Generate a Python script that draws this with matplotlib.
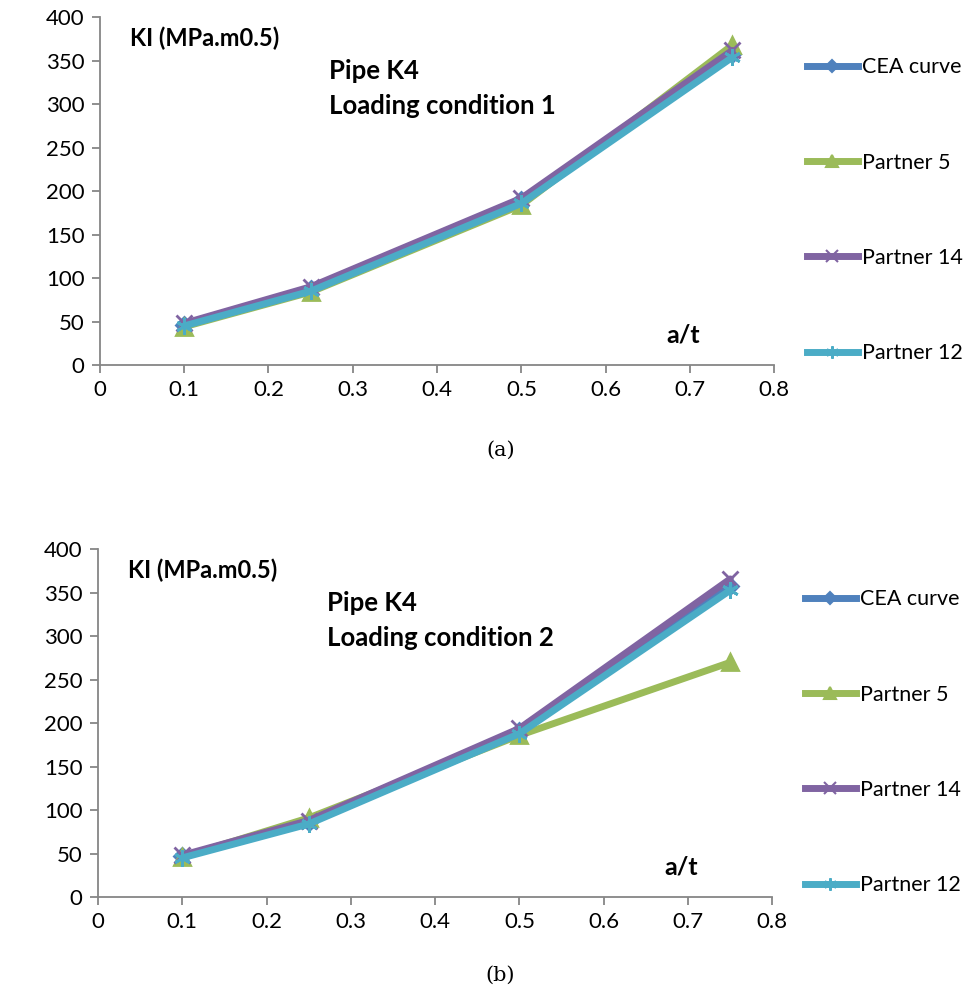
import matplotlib.pyplot as plt
from matplotlib.lines import Line2D

# a/t positions
crack_depth = [0.1, 0.25, 0.5, 0.75]

series_names = ["CEA curve", "Partner 5", "Partner 14", "Partner 12"]

# loading condition 1
cea_1 = [46, 88, 190, 358]
p5_1 = [44, 84, 184, 368]
p14_1 = [48, 90, 192, 362]
p12_1 = [45, 85, 186, 354]

# loading condition 2
cea_2 = [47, 86, 191, 358]
p5_2 = [46, 91, 186, 270]
p14_2 = [48, 88, 194, 366]
p12_2 = [45, 84, 188, 353]

x_ticks = [0, 0.1, 0.2, 0.3, 0.4, 0.5, 0.6, 0.7, 0.8]
y_ticks = [0, 50, 100, 150, 200, 250, 300, 350, 400]

colors = ["#4F81BD", "#9BBB59", "#8064A2", "#4BACC6"]
markers = ["D", "^", "x", (6, 2, 0)]
msizes = [8, 11, 11, 12]

plt.rcParams["font.family"] = ["Lato", "DejaVu Sans"]

fig = plt.figure(figsize=(9.79, 9.96), dpi=100)


def draw_panel(rect, data, label, caption, cap_y):
    ax = fig.add_axes(rect)
    for vals, name, c, m, ms in zip(data, series_names, colors, markers, msizes):
        ax.plot(crack_depth, vals, color=c, lw=5, marker=m, ms=ms,
                mew=2, mec=c, mfc=c, label=name, solid_capstyle="round")
    ax.set_xlim(0, 0.8)
    ax.set_ylim(0, 400)
    ax.set_xticks(x_ticks)
    ax.set_xticklabels(["0"] + ["%.1f" % t for t in x_ticks[1:]])
    ax.set_yticks(y_ticks)
    for s in ["top", "right"]:
        ax.spines[s].set_visible(False)
    for s in ["left", "bottom"]:
        ax.spines[s].set_color("#868686")
        ax.spines[s].set_linewidth(1.3)
    ax.tick_params(direction="out", length=6, width=1.3, color="#868686",
                   labelsize=16, pad=5)
    ax.text(0.045, 0.94, "KI (MPa.m0.5)", transform=ax.transAxes,
            fontsize=17, fontweight="bold", va="center")
    ax.text(0.34, 0.845, "Pipe K4", transform=ax.transAxes,
            fontsize=18.5, fontweight="bold", va="center")
    ax.text(0.34, 0.745, label, transform=ax.transAxes,
            fontsize=18.5, fontweight="bold", va="center")
    ax.text(0.84, 0.085, "a/t", transform=ax.transAxes,
            fontsize=18, fontweight="bold", va="center")

    handles = [Line2D([], [], color=c, lw=5, marker=m, ms=ms * 0.75, mew=1.5,
                      mec=c, mfc=c) for c, m, ms in zip(colors, markers, msizes)]
    ax.legend(handles, series_names, loc="upper left",
              bbox_to_anchor=(1.035, 0.91), frameon=False, fontsize=15.5,
              handlelength=2.4, handletextpad=0.15, labelspacing=3.5,
              borderaxespad=0)
    fig.text(0.511, cap_y, caption, ha="center", va="center", fontsize=15,
             family=["DejaVu Serif"])
    return ax


draw_panel([0.102, 0.6335, 0.689, 0.349], [cea_1, p5_1, p14_1, p12_1],
           "Loading condition 1", "(a)", 0.548)
draw_panel([0.1, 0.0994, 0.689, 0.349], [cea_2, p5_2, p14_2, p12_2],
           "Loading condition 2", "(b)", 0.021)

fig.savefig("out.png", dpi=100)
